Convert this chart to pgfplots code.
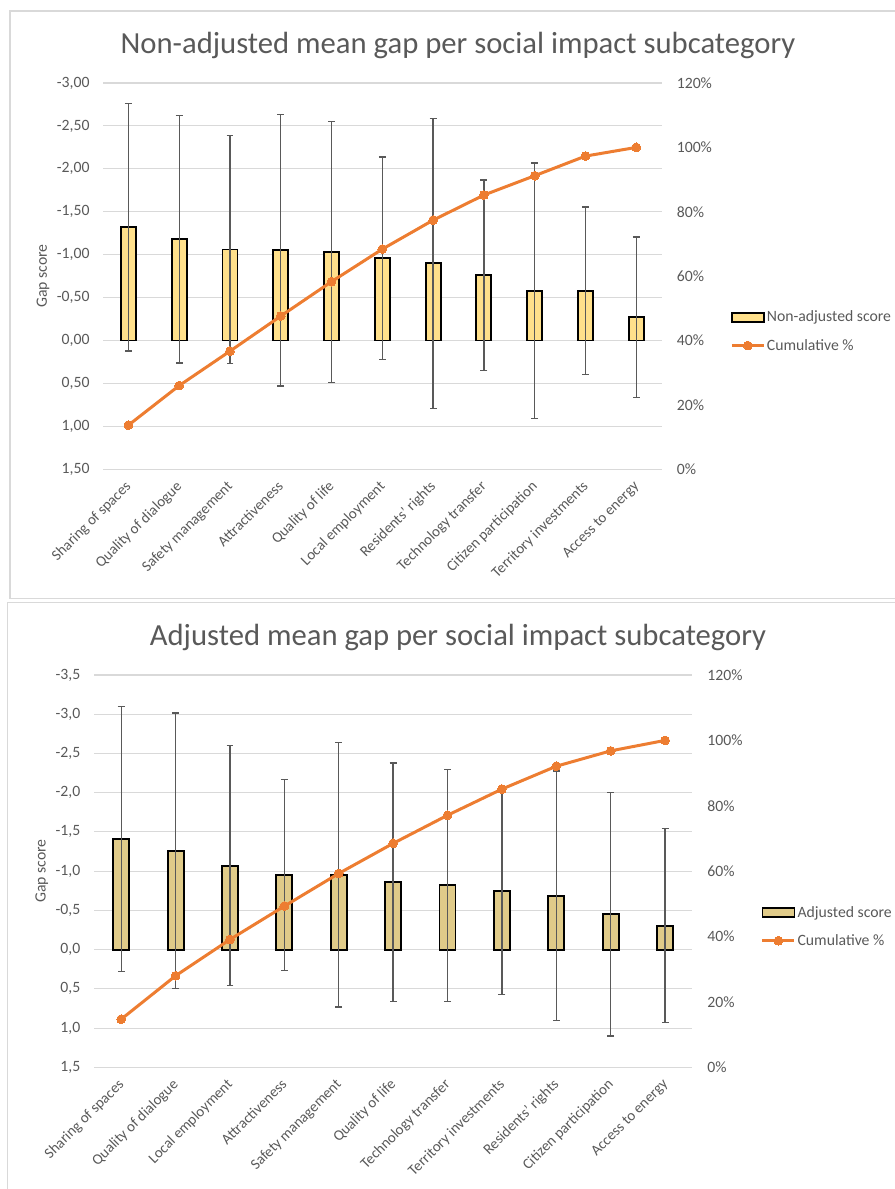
\documentclass[border=0pt]{standalone}
\usepackage{fontspec}
\setmainfont{Carlito}
\usepackage{pgfplots}
\pgfplotsset{compat=1.18}
\usepackage{pgfplotstable}

\definecolor{txt}{HTML}{595959}
\definecolor{grd}{HTML}{D9D9D9}
\definecolor{barA}{HTML}{FFE08B}
\definecolor{barB}{HTML}{E0CB89}
\definecolor{cum}{HTML}{ED7D31}

% non-adjusted: mean gap, sd, cumulative %
\pgfplotstableread{
x m sd cum
1 -1.32 1.44 13.7
2 -1.18 1.44 26.0
3 -1.06 1.33 36.7
4 -1.05 1.58 47.6
5 -1.03 1.52 58.3
6 -0.96 1.18 68.4
7 -0.90 1.69 77.4
8 -0.76 1.11 85.2
9 -0.58 1.49 91.2
10 -0.58 0.975 97.3
11 -0.27 0.935 100
}\topdata

% adjusted
\pgfplotstableread{
x m sd cum
1 -1.41 1.69 14.7
2 -1.26 1.755 28.0
3 -1.07 1.53 39.1
4 -0.95 1.22 49.3
5 -0.955 1.685 59.3
6 -0.86 1.52 68.5
7 -0.82 1.48 77.1
8 -0.745 1.32 85.1
9 -0.685 1.59 92.1
10 -0.45 1.55 96.8
11 -0.305 1.235 100
}\botdata

\pgfplotsset{
  panel/.style={scale only axis, anchor=center, xmin=0.5, xmax=11.5, clip=false,
    axis line style={draw=none}, major tick length=0pt, tick style={draw=none},
    tick label style={text=txt, font=\fontsize{11.8}{14}\selectfont}},
  barleg/.style={legend image code/.code={\draw[##1] (0pt,-3.6pt) rectangle (24pt,3.6pt);}},
  lineleg/.style={legend image code/.code={\draw[mark repeat=2,mark phase=2,##1] plot coordinates {(0pt,0pt) (12pt,0pt) (24pt,0pt)};}},
  gaps/.style={error bars/.cd, y dir=both, y explicit,
    error bar style={draw=txt, line width=1pt},
    error mark options={rotate=90, draw=txt, mark size=2.6pt, line width=1pt}},
  cumline/.style={cum, line width=2.25pt, mark=*, mark size=3.3pt,
    mark options={fill=cum, draw=cum, line width=0pt}, lineleg},
  leg/.style={legend style={draw=none, fill=none, inner sep=0pt, anchor=west,
    font=\fontsize{11.8}{14}\selectfont, text=txt, row sep=9pt, nodes={inner sep=1.2pt}},
    legend cell align=left},
  % shifts are in the rotated frame of the label
  cats/.style={xticklabel style={rotate=45, anchor=base east, inner sep=0pt,
    xshift=-7.6pt, yshift=-11.2pt, font=\fontsize{11.2}{13}\selectfont}},
}

\begin{document}
\begin{tikzpicture}
\useasboundingbox (0,0) rectangle (670.5pt,-891.75pt);

\begin{scope}[x=0.75pt,y=-0.75pt]
  \draw[grd, line width=0.8pt] (10,11) rectangle (905,598.3);
  \draw[grd, line width=0.8pt] (7.3,602.7) rectangle (905,1200);
  \node[anchor=base, text=txt, font=\fontsize{23}{27}\selectfont] at (458,53.3)
    {Non-adjusted mean gap per social impact subcategory};
  \node[anchor=base, text=txt, font=\fontsize{23}{27}\selectfont] at (458,645)
    {Adjusted mean gap per social impact subcategory};
\end{scope}

% ---- top panel ----
\begin{axis}[panel, at={(286.76pt,-207.11pt)}, width=419.0pt, height=289.7pt,
  y dir=reverse, ymin=-3, ymax=1.5,
  ytick={-3,-2.5,-2,-1.5,-1,-0.5,0,0.5,1,1.5}, xtick=\empty,
  ymajorgrids, grid style={grd, line width=0.8pt},
  yticklabel style={xshift=-6.6pt, /pgf/number format/.cd, fixed, fixed zerofill,
    precision=2, use comma, assume math mode=true},
  ylabel={Gap score}, ylabel style={at={(axis description cs:-0.1074,0.5)},
    anchor=center, text=txt, font=\fontsize{11.8}{14}\selectfont}]
\addplot[ybar, bar width=11.25pt, fill=barA, draw=black, line width=1.4pt, gaps]
  table[x=x, y=m, y error=sd] {\topdata};
\end{axis}
\begin{axis}[panel, leg, cats, at={(286.76pt,-207.11pt)}, width=419.0pt, height=289.7pt,
  ymin=0, ymax=120, ytick={0,20,40,60,80,100,120},
  yticklabels={0\%,20\%,40\%,60\%,80\%,100\%,120\%},
  yticklabel pos=right, yticklabel style={xshift=7.8pt},
  xtick={1,...,11},
  xticklabels={Sharing of spaces, Quality of dialogue, Safety management, Attractiveness,
    Quality of life, Local employment, Residents' rights, Technology transfer,
    Citizen participation, Territory investments, Access to energy},
  legend style={at={(axis description cs:1.1223,0.3567)}}]
\addlegendimage{barleg, fill=barA, draw=black, line width=1.4pt}
\addplot[cumline] table[x=x, y=cum] {\topdata};
\legend{Non-adjusted score, Cumulative \%}
\end{axis}

% ---- bottom panel ----
\begin{axis}[panel, at={(294.86pt,-653.36pt)}, width=448.7pt, height=294.2pt,
  y dir=reverse, ymin=-3.5, ymax=1.5,
  ytick={-3.5,-3,-2.5,-2,-1.5,-1,-0.5,0,0.5,1,1.5}, xtick=\empty,
  ymajorgrids, grid style={grd, line width=0.8pt},
  yticklabel style={xshift=-6.8pt, /pgf/number format/.cd, fixed, fixed zerofill,
    precision=1, use comma, assume math mode=true},
  ylabel={Gap score}, ylabel style={at={(axis description cs:-0.0874,0.5)},
    anchor=center, text=txt, font=\fontsize{11.8}{14}\selectfont}]
\addplot[ybar, bar width=12pt, fill=barB, draw=black, line width=1.4pt, gaps]
  table[x=x, y=m, y error=sd] {\botdata};
\end{axis}
\begin{axis}[panel, leg, cats, at={(294.86pt,-653.36pt)}, width=448.7pt, height=294.2pt,
  ymin=0, ymax=120, ytick={0,20,40,60,80,100,120},
  yticklabels={0\%,20\%,40\%,60\%,80\%,100\%,120\%},
  yticklabel pos=right, yticklabel style={xshift=7.8pt},
  xtick={1,...,11},
  xticklabels={Sharing of spaces, Quality of dialogue, Local employment, Attractiveness,
    Safety management, Quality of life, Technology transfer, Territory investments,
    Residents' rights, Citizen participation, Access to energy},
  legend style={at={(axis description cs:1.1143,0.3585)}}]
\addlegendimage{barleg, fill=barB, draw=black, line width=1.4pt}
\addplot[cumline] table[x=x, y=cum] {\botdata};
\legend{Adjusted score, Cumulative \%}
\end{axis}
\end{tikzpicture}
\end{document}
